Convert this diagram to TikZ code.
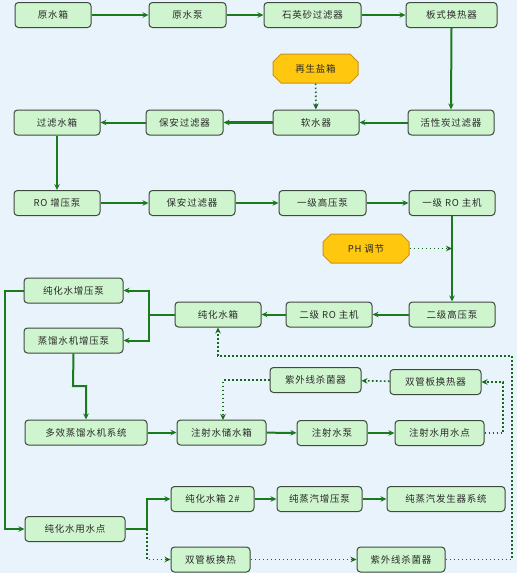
\documentclass[tikz,border=0pt]{standalone}
\usepackage{fontspec}
\newfontfamily\cjk[LetterSpace=8]{Noto Sans CJK SC}
\usetikzlibrary{arrows.meta,shapes.misc}
\definecolor{bg}{HTML}{E8F3FC}
\definecolor{boxfill}{HTML}{CFF5CF}
\definecolor{boxdraw}{HTML}{3E4A3E}
\definecolor{lgreen}{HTML}{1B7A1B}
\definecolor{yfill}{HTML}{FFC80E}
\definecolor{ydraw}{HTML}{C8921E}
\definecolor{txt}{HTML}{2A2A2A}
\tikzset{
  box/.style={draw=boxdraw, line width=1pt, fill=boxfill, rounded corners=3.5pt,
    minimum height=25pt, inner sep=0pt, text=txt, font=\cjk\fontsize{9.5}{11}\selectfont},
  ybox/.style={draw=ydraw, line width=1pt, fill=yfill, chamfered rectangle, chamfered rectangle xsep=4pt,
    chamfered rectangle ysep=4pt, minimum height=29pt, inner sep=0pt, text=txt,
    font=\cjk\fontsize{9.5}{11}\selectfont},
  flow/.style={draw=lgreen, line width=2pt, -{Stealth[length=6pt,width=5.5pt]}},
  flowthin/.style={draw=lgreen, line width=1.5pt, -{Stealth[length=6pt,width=5.5pt]}},
  line/.style={draw=lgreen, line width=2pt},
  dot/.style={draw=lgreen!85!black, line width=1.6pt, dash pattern=on 1.6pt off 2.4pt, -{Stealth[length=6pt,width=5.5pt]}},
}
\begin{document}
\begin{tikzpicture}[x=1pt,y=-1pt]
\fill[bg] (0,0) rectangle (517,573);
\useasboundingbox (0,0) rectangle (517,573);
% row 1
\node[box, minimum width=76pt] (a1) at (53,15) {原水箱};
\node[box, minimum width=77pt] (a2) at (187.5,15) {原水泵};
\node[box, minimum width=97pt] (a3) at (312.5,15) {石英砂过滤器};
\node[box, minimum width=91pt] (a4) at (451.5,15) {板式换热器};
% row 2
\node[ybox, minimum width=85pt] (salt) at (315.5,68.5) {再生盐箱};
\node[box, minimum width=86pt] (b4) at (451,122.5) {活性炭过滤器};
\node[box, minimum width=86pt] (b3) at (316,122.5) {软水器};
\node[box, minimum width=77pt] (b2) at (184.5,122.5) {保安过滤器};
\node[box, minimum width=86pt] (b1) at (57,122.5) {过滤水箱};
% row 3
\node[box, minimum width=86pt] (c1) at (57,203) {RO 增压泵};
\node[box, minimum width=86pt] (c2) at (192,203) {保安过滤器};
\node[box, minimum width=87pt] (c3) at (322.5,203) {一级高压泵};
\node[box, minimum width=86pt] (c4) at (452,203) {一级 RO 主机};
\node[ybox, minimum width=86pt] (ph) at (366,248.5) {PH 调节};
% row 4
\node[box, minimum width=86pt] (d4) at (452,314.5) {二级高压泵};
\node[box, minimum width=86pt] (d3) at (329,314.5) {二级 RO 主机};
\node[box, minimum width=86pt] (d2) at (218,314.5) {纯化水箱};
\node[box, minimum width=99pt] (p1) at (73.5,290.5) {纯化水增压泵};
\node[box, minimum width=99pt] (p2) at (73.5,340.5) {蒸馏水机增压泵};
% row 5
\node[box, minimum width=91pt] (u1) at (315.5,380) {紫外线杀菌器};
\node[box, minimum width=91pt] (h1) at (435.5,382) {双管板换热器};
% row 6
\node[box, minimum width=122pt] (e1) at (86,432.5) {多效蒸馏水机系统};
\node[box, minimum width=89pt] (e2) at (221.5,432.5) {注射水储水箱};
\node[box, minimum width=70pt] (e3) at (332,433) {注射水泵};
\node[box, minimum width=89pt] (e4) at (439.5,433) {注射水用水点};
% row 7
\node[box, minimum width=83pt] (f1) at (212.5,499) {纯化水箱 2\#};
\node[box, minimum width=85pt] (f2) at (319.5,499) {纯蒸汽增压泵};
\node[box, minimum width=118pt] (f3) at (446,499) {纯蒸汽发生器系统};
\node[box, minimum width=100pt] (g0) at (75,529) {纯化水用水点};
\node[box, minimum width=79pt] (g1) at (210.5,559.5) {双管板换热};
\node[box, minimum width=88pt] (g2) at (401,559.5) {紫外线杀菌器};
% junction coordinates
\coordinate (j1) at (149,314.5);
\coordinate (j2) at (147,529);
\coordinate (j3) at (5,290.5);
% connectors
\draw[flow, line width=2.5pt] (a1) -- (a2);
\draw[flow, line width=2.5pt] (a2) -- (a3);
\draw[flow, line width=2.5pt] (a3) -- (a4);
\draw[flow] (a4.south) -- (b4.north);
\draw[flow] (b4) -- (b3);
\draw[flow, line width=2.5pt] (b3) -- (b2);
\draw[flow] (b2) -- (b1);
\draw[dot] (salt) -- (b3);
\draw[flow] (b1) -- (c1);
\draw[flowthin] (c1) -- (c2);
\draw[flowthin] (c2) -- (c3);
\draw[flow, line width=2.5pt] (c3) -- (c4);
\draw[flow] (c4.south) -- (d4.north);
\draw[dot] (ph.east) -- (452,248.5);
\draw[flow] (d4) -- (d3);
\draw[flow] (d3) -- (d2);
\draw[line] (d2.west) -- (j1);
\draw[flow] (j1) |- (p1.east);
\draw[flow] (j1) |- (p2.east);
\draw[flow] (p1.west) -- (j3) |- (g0.west);
\draw[flow] (p2.south) -- (73,386) -- (86,386) -- (e1.north);
\draw[flow] (e1) -- (e2);
\draw[flow] (e2) -- (e3);
\draw[flow] (e3) -- (e4);
\draw[dot] (e4.east) -- (503,433) |- (h1.east);
\draw[dot] (h1) -- (u1);
\draw[dot] (u1.west) -| (223,420);
\draw[line] (g0.east) -- (j2);
\draw[flow] (j2) |- (f1.west);
\draw[flow] (f1) -- (f2);
\draw[flow] (f2) -- (f3);
\draw[dot] (j2) |- (g1.west);
\draw[dot] (g1) -- (g2);
\draw[dot] (g2.east) -- (512,559.5) |- (218,356) -- (d2.south);
\end{tikzpicture}
\end{document}
